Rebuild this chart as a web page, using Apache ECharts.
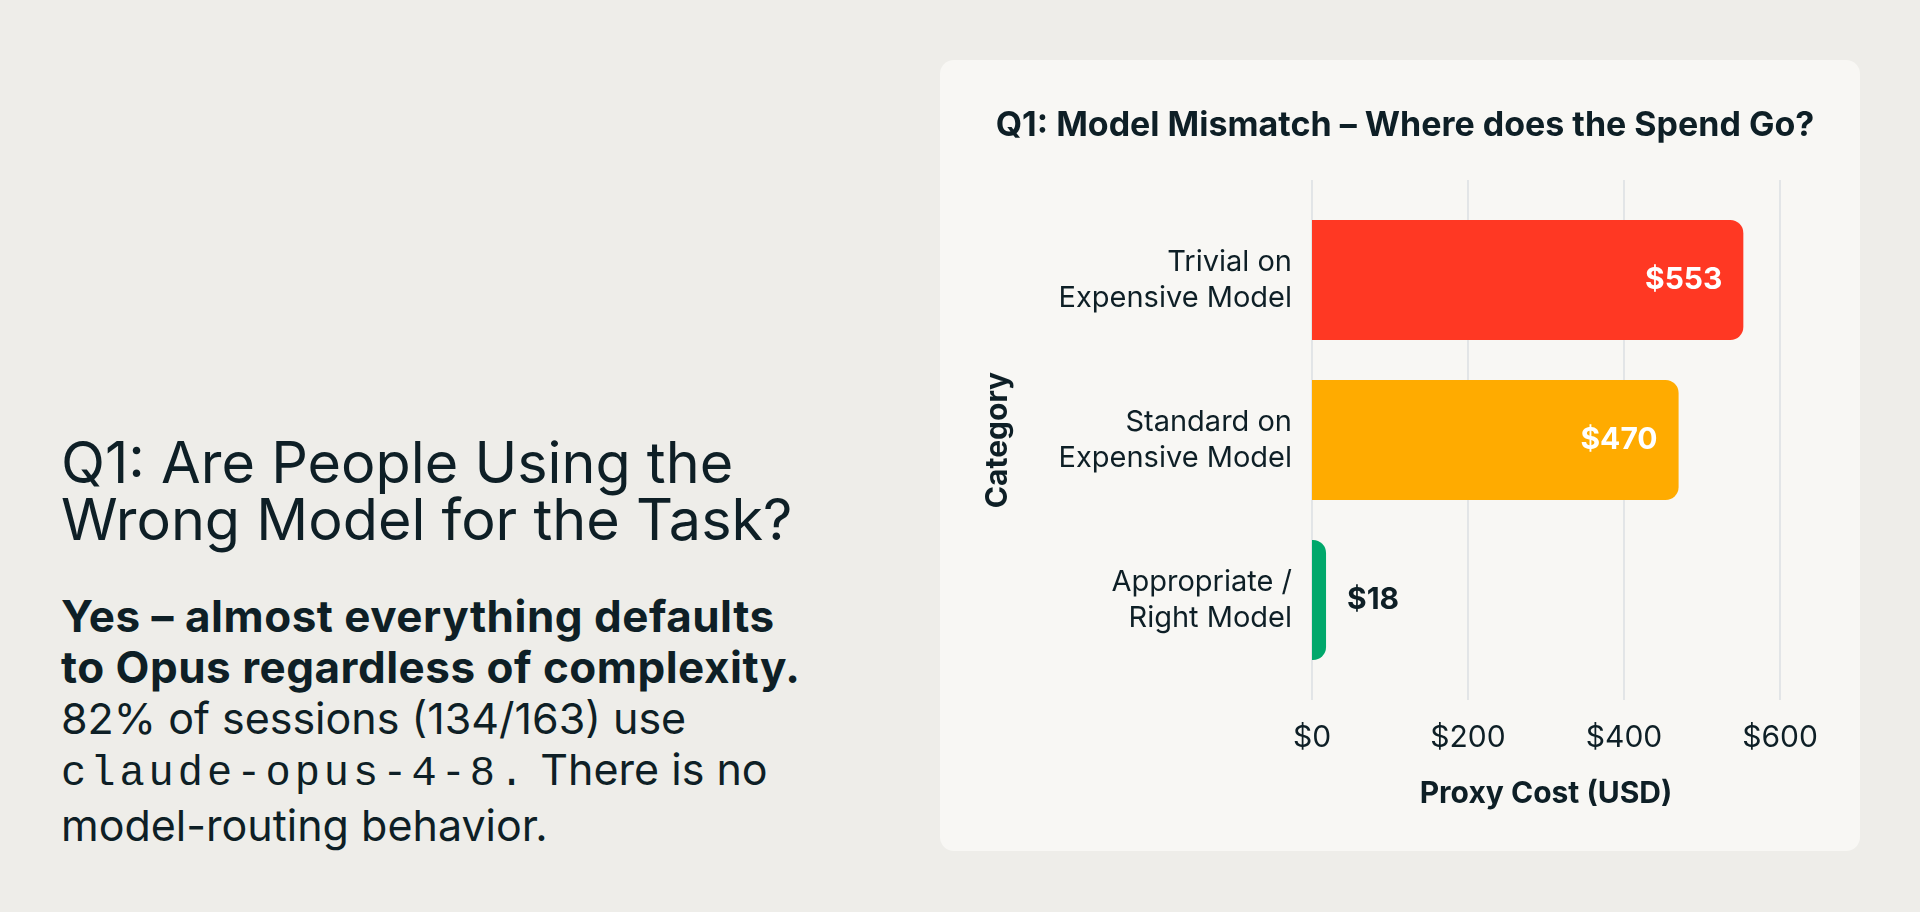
<!DOCTYPE html>
<html>
<head>
<meta charset="utf-8">
<script src="https://cdn.jsdelivr.net/npm/echarts@6/dist/echarts.min.js"></script>
<style>
  html, body { margin: 0; padding: 0; width: 1920px; height: 912px; overflow: hidden; background: #EEEDE9; }
  #card { position: absolute; left: 940px; top: 60px; width: 920px; height: 791px; background: #F8F7F4; border-radius: 14px; }
  #chart { position: absolute; left: 0; top: 0; width: 1920px; height: 912px; }
  #left { position: absolute; left: 61px; top: 0; width: 860px; color: #0E1F26; font-family: Inter, "Noto Sans", sans-serif; }
  #left h1 { position: absolute; top: 434px; margin: 0; font-size: 57.5px; font-weight: 400; line-height: 57px; white-space: nowrap; }
  #left p { position: absolute; top: 591px; margin: 0; font-size: 43px; font-weight: 400; line-height: 51px; white-space: nowrap; }
  #left b { font-weight: 700; font-size: 44px; letter-spacing: 0.5px; }
  #left code { font-family: "Liberation Mono", "DejaVu Sans Mono", monospace; font-size: 42px; letter-spacing: 4px; }
</style>
</head>
<body>
<div id="card"></div>
<div id="left">
  <h1>Q1: Are People Using the<br>Wrong Model for the Task?</h1>
  <p><b>Yes – almost everything defaults<br>to Opus regardless of complexity.</b><br>82% of sessions (134/163) use<br><code>claude-opus-4-8.</code> There is no<br>model-routing behavior.</p>
</div>
<div id="chart"></div>
<script>
const chartTitle = 'Q1: Model Mismatch – Where does the Spend Go?';
const categories = ['Trivial on\nExpensive Model', 'Standard on\nExpensive Model', 'Appropriate /\nRight Model'];
const costs = [553, 470, 18];
const xTicks = [0, 200, 400, 600];
const xAxisTitle = 'Proxy Cost (USD)';
const yAxisTitle = 'Category';

const palette = ['#FF3823', '#FFAB00', '#00A86B'];
const dark = '#0E1F26';
const font = 'Inter, "Noto Sans", sans-serif';

const chart = echarts.init(document.getElementById('chart'), null, { renderer: 'canvas' });

const barData = costs.map((v, i) => {
  const inside = v > 100;
  return {
    value: v,
    itemStyle: { color: palette[i] },
    label: inside
      ? { position: 'insideRight', distance: 21, color: '#FFFFFF' }
      : { position: 'right', distance: 21, color: dark }
  };
});

chart.setOption({
  backgroundColor: 'transparent',
  animation: false,
  title: {
    text: chartTitle,
    left: 1400,
    top: 104,
    textAlign: 'center',
    textStyle: { fontFamily: font, fontSize: 34, fontWeight: 700, color: dark }
  },
  grid: [
    { left: 1312, width: 468, top: 200, height: 480 },
    { left: 1312, width: 468, top: 180, height: 520 }
  ],
  xAxis: [
    { gridIndex: 0, type: 'value', min: xTicks[0], max: xTicks[xTicks.length - 1], interval: 200, show: false },
    {
      gridIndex: 1, type: 'value', min: xTicks[0], max: xTicks[xTicks.length - 1], interval: 200,
      axisLine: { show: false }, axisTick: { show: false },
      splitLine: { show: true, lineStyle: { color: '#DDE0E4', width: 1.6 } },
      axisLabel: { formatter: v => '$' + v, fontFamily: font, fontSize: 30, color: dark, margin: 23 },
      name: xAxisTitle, nameLocation: 'middle', nameGap: 79,
      nameTextStyle: { fontFamily: font, fontSize: 30, fontWeight: 700, color: dark }
    }
  ],
  yAxis: [
    {
      gridIndex: 0, type: 'category', data: categories, inverse: true,
      axisLine: { show: false }, axisTick: { show: false }, splitLine: { show: false },
      axisLabel: { fontFamily: font, fontSize: 29, lineHeight: 36, color: dark, margin: 20, align: 'right' },
      name: yAxisTitle, nameLocation: 'middle', nameRotate: 90, nameGap: 299,
      nameTextStyle: { fontFamily: font, fontSize: 30, fontWeight: 700, color: dark }
    },
    { gridIndex: 1, type: 'value', show: false }
  ],
  series: [{
    type: 'bar',
    xAxisIndex: 0, yAxisIndex: 0,
    data: barData,
    barWidth: 120,
    itemStyle: { borderRadius: [0, 13, 13, 0] },
    label: {
      show: true,
      formatter: p => '$' + p.value,
      fontFamily: font, fontSize: 30, fontWeight: 700
    }
  }]
});
</script>
</body>
</html>
